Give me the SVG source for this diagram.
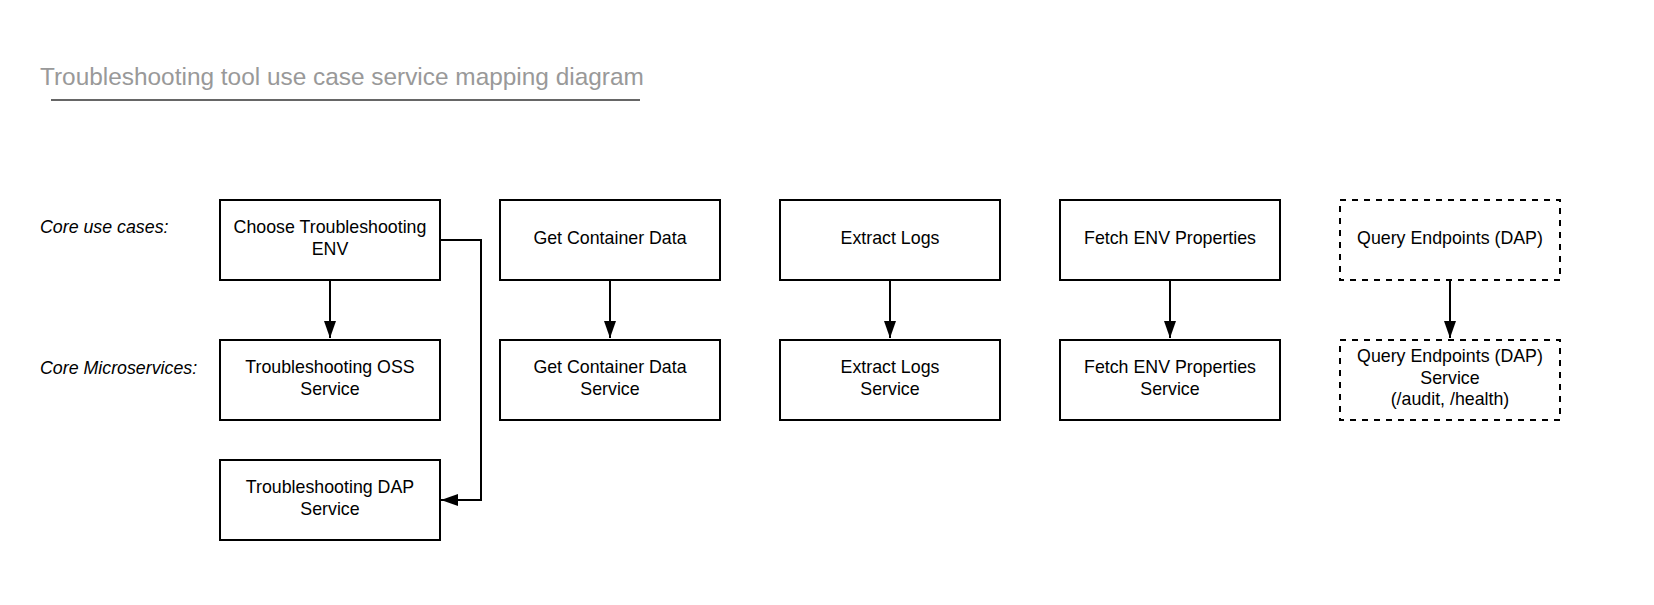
<svg xmlns="http://www.w3.org/2000/svg" width="1654" height="605" viewBox="0 0 1654 605">
<style>
.box{fill:#fff;stroke:#000;stroke-width:2}
.dash{fill:#fff;stroke:#000;stroke-width:2;stroke-dasharray:6 6}
.t{font-family:"Liberation Sans",Arial,sans-serif;font-size:17.8px;fill:#000;text-anchor:middle}
.lbl{font-family:"Liberation Sans",Arial,sans-serif;font-size:17.8px;font-style:italic;fill:#000}
.title{font-family:"Liberation Sans",Arial,sans-serif;font-size:24.4px;fill:#999}
.c{fill:none;stroke:#000;stroke-width:2}
</style>
<defs>
<marker id="ah" markerWidth="17" markerHeight="12" refX="17" refY="6" orient="auto" markerUnits="userSpaceOnUse">
<path d="M0,0 L17,6 L0,12 Z" fill="#000"/>
</marker>
</defs>
<rect width="1654" height="605" fill="#fff"/>
<g id="title">
<text class="title" x="40" y="85">Troubleshooting tool use case service mapping diagram</text>
<line x1="51" y1="100" x2="640" y2="100" stroke="#666" stroke-width="2"/>
</g>
<g id="labels">
<text class="lbl" x="40" y="233">Core use cases:</text>
<text class="lbl" x="40" y="374">Core Microservices:</text>
</g>
<g id="uc1"><rect class="box" x="220" y="200" width="220" height="80"/><text class="t" x="330" y="233">Choose Troubleshooting</text><text class="t" x="330" y="254.5">ENV</text></g>
<g id="uc2"><rect class="box" x="500" y="200" width="220" height="80"/><text class="t" x="610" y="243.5">Get Container Data</text></g>
<g id="uc3"><rect class="box" x="780" y="200" width="220" height="80"/><text class="t" x="890" y="243.5">Extract Logs</text></g>
<g id="uc4"><rect class="box" x="1060" y="200" width="220" height="80"/><text class="t" x="1170" y="243.5">Fetch ENV Properties</text></g>
<g id="uc5"><rect class="dash" x="1340" y="200" width="220" height="80"/><text class="t" x="1450" y="243.5">Query Endpoints (DAP)</text></g>
<g id="ms1"><rect class="box" x="220" y="340" width="220" height="80"/><text class="t" x="330" y="373">Troubleshooting OSS</text><text class="t" x="330" y="394.5">Service</text></g>
<g id="ms2"><rect class="box" x="500" y="340" width="220" height="80"/><text class="t" x="610" y="373">Get Container Data</text><text class="t" x="610" y="394.5">Service</text></g>
<g id="ms3"><rect class="box" x="780" y="340" width="220" height="80"/><text class="t" x="890" y="373">Extract Logs</text><text class="t" x="890" y="394.5">Service</text></g>
<g id="ms4"><rect class="box" x="1060" y="340" width="220" height="80"/><text class="t" x="1170" y="373">Fetch ENV Properties</text><text class="t" x="1170" y="394.5">Service</text></g>
<g id="ms5"><rect class="dash" x="1340" y="340" width="220" height="80"/><text class="t" x="1450" y="362">Query Endpoints (DAP)</text><text class="t" x="1450" y="383.5">Service</text><text class="t" x="1450" y="405">(/audit, /health)</text></g>
<g id="ms6"><rect class="box" x="220" y="460" width="220" height="80"/><text class="t" x="330" y="493">Troubleshooting DAP</text><text class="t" x="330" y="514.5">Service</text></g>
<g id="connectors">
<line class="c" x1="330" y1="280" x2="330" y2="338" marker-end="url(#ah)"/>
<line class="c" x1="610" y1="280" x2="610" y2="338" marker-end="url(#ah)"/>
<line class="c" x1="890" y1="280" x2="890" y2="338" marker-end="url(#ah)"/>
<line class="c" x1="1170" y1="280" x2="1170" y2="338" marker-end="url(#ah)"/>
<line class="c" x1="1450" y1="280" x2="1450" y2="338" marker-end="url(#ah)"/>
<polyline class="c" points="440,240 481,240 481,500 441,500" marker-end="url(#ah)"/>
</g>
</svg>
